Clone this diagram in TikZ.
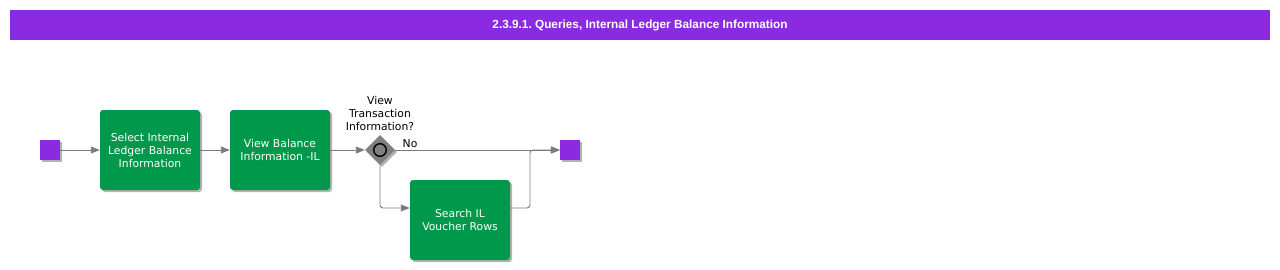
\documentclass[tikz,border=0pt]{standalone}
\usepackage{fontspec}
\setmainfont{DejaVu Sans}
\newfontfamily\titlefont{Liberation Sans}
\usetikzlibrary{arrows.meta,shapes.geometric,shadows}
\frenchspacing
\definecolor{violetbar}{HTML}{8A2BE2}
\definecolor{taskgreen}{HTML}{00984A}
\definecolor{flowgray}{HTML}{7A7A7A}
\definecolor{gategray}{HTML}{808080}
\tikzset{
  sh/.style={drop shadow={shadow xshift=2pt,shadow yshift=-2pt,fill=black,opacity=0.3}},
  task/.style={draw=none,fill=taskgreen,rounded corners=3pt,minimum width=100pt,minimum height=80pt,
     text=white,align=center,font=\fontsize{10.8}{13}\selectfont,sh,inner sep=0pt},
  term/.style={draw=none,fill=violetbar,minimum size=20pt,inner sep=0pt,sh},
  gate/.style={diamond,fill=gategray,draw=none,minimum size=30pt,inner sep=0pt,sh},
  flow/.style={draw=flowgray,line width=0.9pt,-{Triangle[length=9pt,width=7pt]},rounded corners=3pt},
  lbl/.style={font=\fontsize{10.8}{13}\selectfont,align=center,text=black},
}
\begin{document}
\begin{tikzpicture}[x=1pt,y=-1pt]
\useasboundingbox (0,0) rectangle (1280,270);
\fill[white] (0,0) rectangle (1280,270);
\node[fill=violetbar,minimum width=1260pt,minimum height=30pt,inner sep=0pt,text=white,
  font=\titlefont\bfseries\fontsize{11.8}{13}\selectfont] (title) at (640,25) {2.3.9.1. Queries, Internal Ledger Balance Information};
\node[term] (start) at (50,150) {};
\node[task] (t1) at (150,150) {Select Internal\\Ledger Balance\\Information};
\node[task] (t2) at (280,150) {View Balance\\Information -IL};
\node[gate] (g) at (380,150) {};
\draw[black,line width=1.4pt,fill=gategray] (g.center) circle (6.3pt);
\node[lbl] (glbl) at (380,113) {View\\Transaction\\Information?};
\node[task] (t3) at (460,220) {Search IL\\Voucher Rows};
\node[term] (end) at (570,150) {};
\coordinate (merge) at (530,150);
\draw[flow] (start) -- (t1);
\draw[flow] (t1) -- (t2);
\draw[flow] (t2) -- (g);
\draw[flow] (g.east) -- node[lbl,above,pos=0.09,inner sep=1.5pt] (no) {No} (end.west);
\draw[flow] (g.south) |- (t3.west |- 0,208);
\draw[flow] (t3.east |- 0,208) -| (merge) -- (end.west);
\end{tikzpicture}
\end{document}
